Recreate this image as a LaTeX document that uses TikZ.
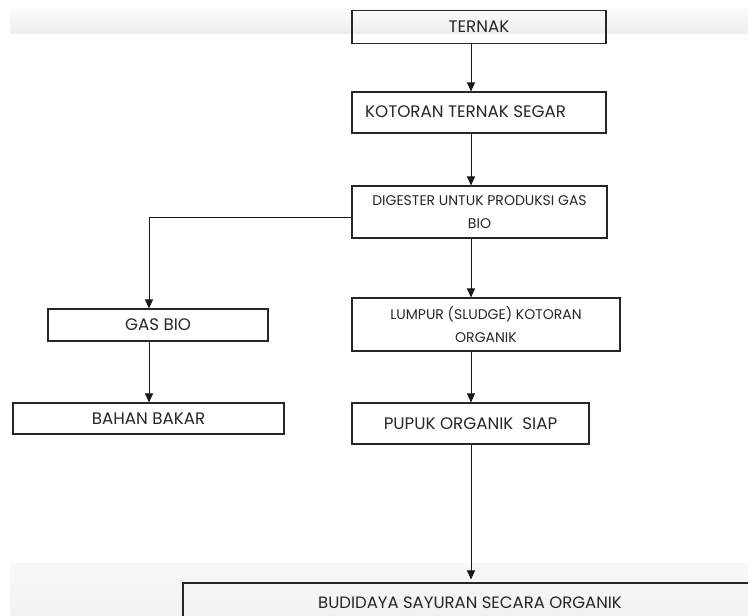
\documentclass[tikz,border=0pt]{standalone}
\usepackage{fontspec}
\setmainfont{Poppins}
\usetikzlibrary{arrows.meta}
\tikzset{
  box/.style={draw=black!85, line width=1.1pt, rectangle, inner sep=0pt, text=black!85},
  big/.style={font=\fontsize{16.7}{19}\selectfont},
  small/.style={font=\fontsize{14}{22.5}\selectfont, align=center},
  arr/.style={draw=black!90, line width=0.9pt, -{Triangle[width=8pt,length=9pt]}},
}
\begin{document}
\begin{tikzpicture}[x=1pt,y=-1pt]
\useasboundingbox (0,0) rectangle (748,616);
% background bands
\shade[top color=gray!3, bottom color=gray!13] (10,8) rectangle (748,33);
\shade[top color=gray!5, bottom color=gray!11] (10,563) rectangle (748,616);
\coordinate (ax) at (471,0);
\coordinate (lx) at (149,0);
% boxes
\node[box, big, minimum width=254pt, minimum height=33pt] (ternak) at (479,27) {TERNAK};
\node[box, minimum width=254pt, minimum height=41pt] (kotoran) at (479,112.5) {};
\node[big, anchor=west, text=black!85, inner sep=0pt] (kotorantext) at (365,112) {KOTORAN TERNAK SEGAR};
\node[box, small, minimum width=255pt, minimum height=52pt] (digester) at (479.5,212) {DIGESTER UNTUK PRODUKSI GAS\\BIO};
\node[box, big, minimum width=220pt, minimum height=32pt] (gasbio) at (158,325) {GAS BIO};
\node[box, big, minimum width=271pt, minimum height=31pt] (bahan) at (148.5,418.5) {BAHAN BAKAR};
\node[box, small, minimum width=268pt, minimum height=53pt] (lumpur) at (486,324.5) {LUMPUR (SLUDGE) KOTORAN\\ORGANIK};
\node[box, big, minimum width=237pt, minimum height=41pt] (pupuk) at (470.5,423.5) {PUPUK ORGANIK\ \ SIAP};
\node[box, font=\fontsize{16.5}{19}\selectfont, minimum width=574pt, minimum height=40pt] (budidaya) at (470,603) {BUDIDAYA SAYURAN SECARA ORGANIK};
% connectors
\draw[arr] (ternak.south -| ax) -- (kotoran.north -| ax);
\draw[arr] (kotoran.south -| ax) -- (digester.north -| ax);
\draw[arr] (digester.south -| ax) -- (lumpur.north -| ax);
\draw[arr] (lumpur.south -| ax) -- (pupuk.north -| ax);
\draw[arr] (pupuk.south -| ax) -- ([yshift=3pt]budidaya.north -| ax);
\draw[arr] ([yshift=-5pt]digester.west) -| (gasbio.north -| lx);
\draw[arr] (gasbio.south -| lx) -- (bahan.north -| lx);
\end{tikzpicture}
\end{document}
